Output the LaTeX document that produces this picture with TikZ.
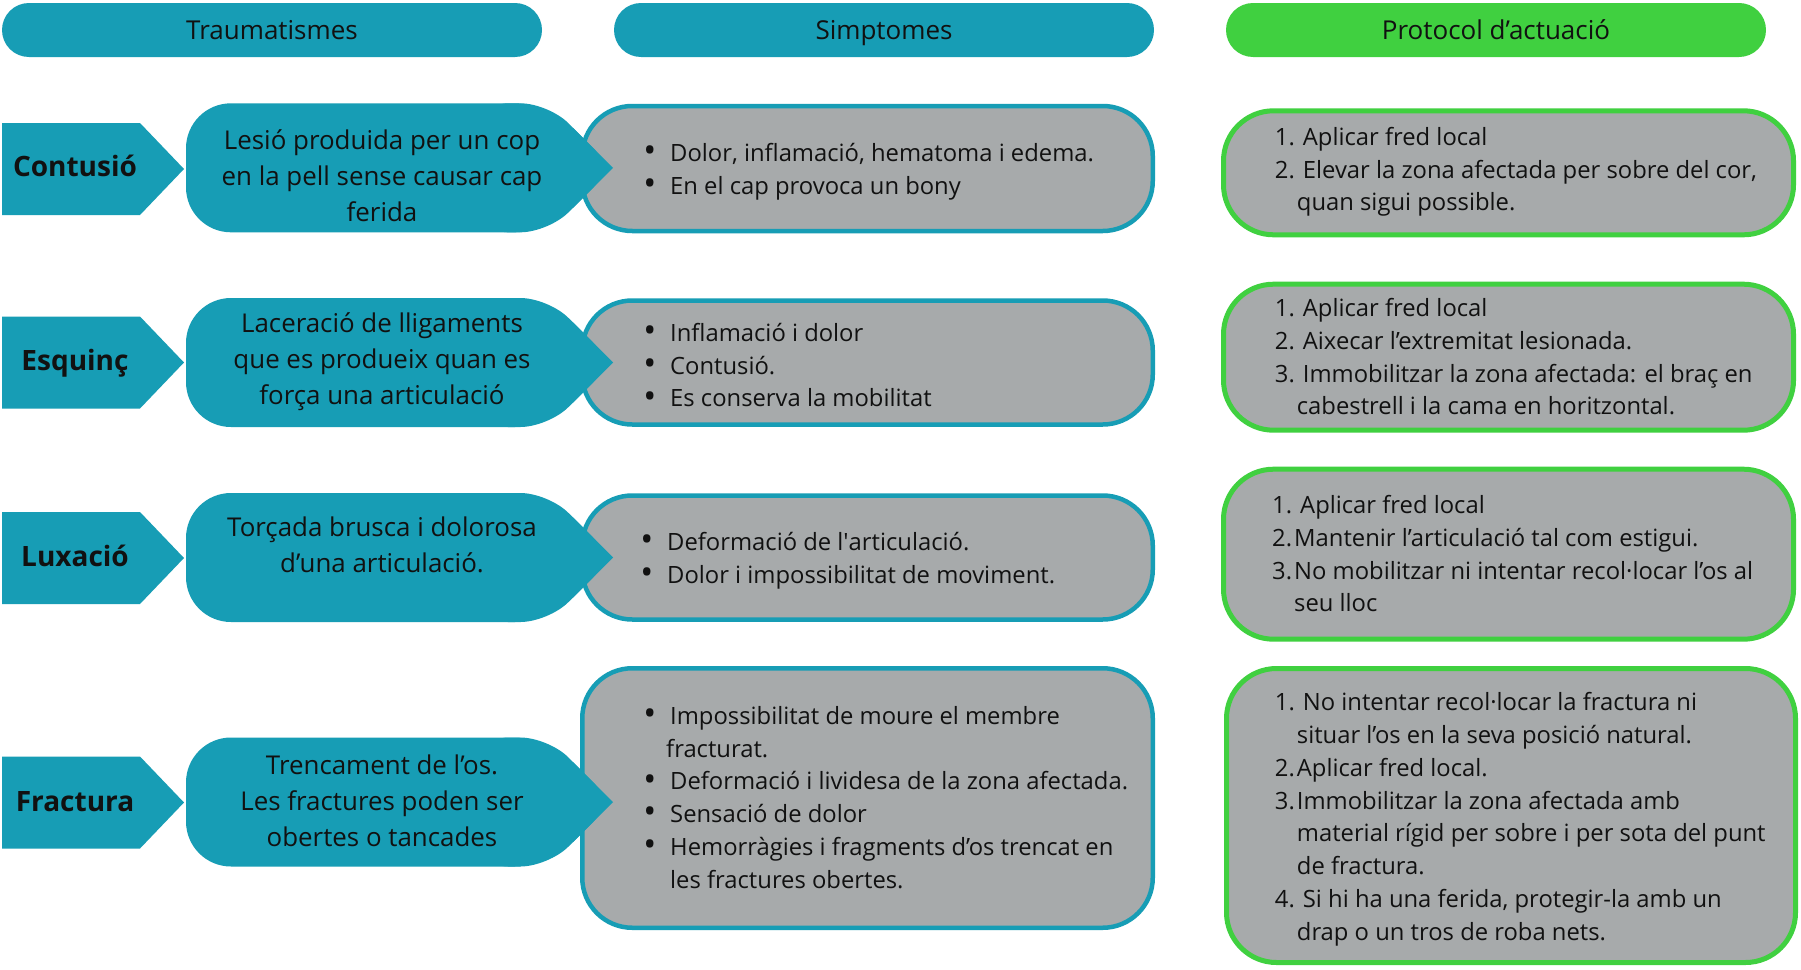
\documentclass[tikz,border=0pt]{standalone}
\usepackage{fontspec}
\usepackage{graphicx}
\setmainfont{Open Sans}
\newfontfamily\rawfont{Open Sans}
\definecolor{tealc}{HTML}{179DB5}
\definecolor{greenc}{HTML}{40D040}
\definecolor{greyc}{HTML}{A7AAAB}
\definecolor{inkc}{HTML}{111111}
\newcommand\fst{\rule{0pt}{30pt}}
\newcommand\bul{\makebox[0pt][r]{\makebox[20pt][c]{\raisebox{-1.2pt}{\scalebox{1.45}{•}}}\hspace{10.4pt}}}
\newcommand\cont{\hspace*{22pt}}
\newcommand\nsp[1]{\makebox[28pt][l]{#1}}
\newcommand\nns[1]{\makebox[22pt][l]{#1}}
\begin{document}
\begin{tikzpicture}[x=1pt,y=-1pt,
  pill/.style={fill=#1, rounded corners=27pt},
  hdrtext/.style={font=\fontsize{26pt}{32.5pt}\selectfont, text=inkc, inner sep=0pt, anchor=base},
  lbl/.style={font=\bfseries\fontsize{28pt}{32.5pt}\selectfont, text=inkc, inner sep=0pt, anchor=base},
  desc/.style={font=\fontsize{25.9pt}{36pt}\selectfont, text=inkc, align=center, inner sep=0pt, anchor=north},
  lst/.style={font=\fontsize{23.8pt}{32.8pt}\selectfont, text=inkc, align=left, inner sep=0pt, anchor=north west},
  greybox/.style={draw=tealc, line width=4.5pt, fill=greyc, rounded corners=50pt},
  greenbox/.style={draw=greenc, line width=5pt, fill=greyc, rounded corners=50pt}
]
\useasboundingbox[fill=white] (0,0) rectangle (1801,969);

% headers
\fill[pill=tealc] (2,3) rectangle (542,57);
\fill[pill=tealc] (614,3) rectangle (1154,57);
\fill[pill=greenc] (1226,3) rectangle (1766,57);
\node[hdrtext] (h1) at (272,39.3) {Traumatismes};
\node[hdrtext] (h2) at (884,39.3) {Simptomes};
\node[hdrtext] (h3) at (1496,39.3) {Protocol d’actuació};

% grey symptom boxes
\path[greybox] (582.25,106) rectangle (1152.75,231);
\path[greybox] (582.25,300.5) rectangle (1152.75,424.5);
\path[greybox] (582.25,495.5) rectangle (1152.75,619.5);
\path[greybox] (582.25,668.25) rectangle (1152.75,927.75);

% green protocol boxes
\path[greenbox] (1223.5,110.8) rectangle (1793.5,234.8);
\path[greenbox] (1223.5,284.2) rectangle (1793.5,430.2);
\path[greenbox] (1223.5,469.2) rectangle (1793.5,639.2);
\path[greenbox] (1226.5,668.5) rectangle (1795.5,962.5);

% label arrows and description shapes
\foreach \c/\d in {169/167.8, 362.5/362.5, 558/557.5, 802.5/802}{
  \fill[tealc] (2,{\c-46}) -- (140,{\c-46}) -- (184,\c) -- (140,{\c+46}) -- (2,{\c+46}) -- cycle;
  \fill[tealc, rounded corners=45pt] (186,{\d-64.5}) rectangle (560,{\d+64.5});
  \fill[tealc, rounded corners=28pt] (480,{\d-64.5}) -- (548.5,{\d-64.5}) -- (613,\d) -- (548.5,{\d+64.5}) -- (480,{\d+64.5}) -- cycle;
  \fill[tealc] (613,\d) -- (573,{\d-40}) -- (573,{\d+40}) -- cycle;
}

% labels
\node[lbl] (l1) at (75,176.7) {Contusió};
\node[lbl] (l2) at (75,370.7) {Esquinç};
\node[lbl] (l3) at (75,566.7) {Luxació};
\node[lbl] (l4) at (75,811.7) {Fractura};

% descriptions
\node[desc] (d1) at (382,{148.8-30}) {\fst Lesió produida per un cop\\en la pell sense causar cap\\ferida};
\node[desc] (d2) at (382,{332.7-30}) {\fst Laceració de lligaments\\que es produeix quan es\\força una articulació};
\node[desc] (d3) at (382,{536.7-30}) {\fst Torçada brusca i dolorosa\\d’una articulació.};
\node[desc] (d4) at (382,{774-30}) {\fst Trencament de l’os.\\Les fractures poden ser\\obertes o tancades};

% symptoms
\node[lst] (s1) at (670,{161-30}) {\fst\bul Dolor, inflamació, hematoma i edema.\\\bul En el cap provoca un bony};
\node[lst] (s2) at (670,{341-30}) {\fst\bul Inflamació i dolor\\\bul Contusió.\\\bul Es conserva la mobilitat};
\node[lst] (s3) at (667,{550-30}) {\fst\bul Deformació de l{\rawfont '}articulació.\\\bul Dolor i impossibilitat de moviment.};
\node[lst] (s4) at (670,{724-30}) {\fst\bul Impossibilitat de moure el membre\\\hspace*{-4pt}fracturat.\\\bul Deformació i lividesa de la zona afectada.\\\bul Sensació de dolor\\\bul Hemorràgies i fragments d’os trencat en\\les fractures obertes.};

% protocols
\node[lst] (p1) at (1274.7,{145-30}) {\fst\nsp{1.}Aplicar fred local\\\nsp{2.}Elevar la zona afectada per sobre del cor,\\\cont quan sigui possible.};
\node[lst] (p2) at (1274.7,{316.3-30}) {\fst\nsp{1.}Aplicar fred local\\\nsp{2.}Aixecar l’extremitat lesionada.\\\nsp{3.}Immobilitzar la zona afectada: el braç en\\\cont cabestrell i la cama en horitzontal.};
\node[lst] (p3) at (1272,{513.3-30}) {\fst\nsp{1.}Aplicar fred local\\\nns{2.}Mantenir l’articulació tal com estigui.\\\nns{3.}No mobilitzar ni intentar recol·locar l’os al\\\cont seu lloc};
\node[lst] (p4) at (1274.7,{710.5-30}) {\fst\nsp{1.}No intentar recol·locar la fractura ni\\\cont situar l’os en la seva posició natural.\\\nns{2.}Aplicar fred local.\\\nns{3.}Immobilitzar la zona afectada amb\\\cont material rígid per sobre i per sota del punt\\\cont de fractura.\\\nsp{4.}Si hi ha una ferida, protegir-la amb un\\\cont drap o un tros de roba nets.};
\end{tikzpicture}
\end{document}
